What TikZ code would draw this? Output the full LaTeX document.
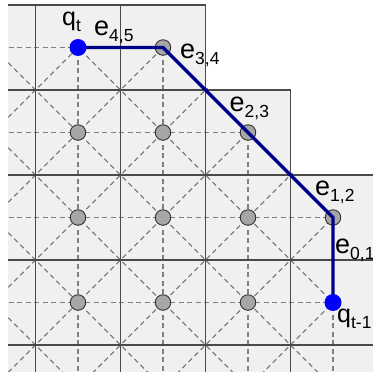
\documentclass[tikz,border=0pt]{standalone}
\usepackage{fontspec}
\setmainfont{Liberation Sans}
\definecolor{bgc}{HTML}{F0F0F0}
\definecolor{gridc}{HTML}{4A4A4A}
\definecolor{dashc}{HTML}{808080}
\definecolor{dotc}{HTML}{A6A6A6}
\definecolor{dotedge}{HTML}{333333}
\definecolor{navyc}{HTML}{000088}
\definecolor{bluec}{HTML}{0000FF}
\newcommand\lsub[1]{{\fontsize{17.5}{17.5}\selectfont\raisebox{-6pt}{#1}}}
\pgfdeclarelayer{bg}
\pgfdeclarelayer{dots}
\pgfdeclarelayer{front}
\pgfsetlayers{bg,dots,main,front}
\begin{document}
\begin{tikzpicture}[x=1pt,y=-1pt,
  gridline/.style={draw=gridc, line width=1.15pt},
  dashline/.style={draw=dashc, line width=1.1pt, dash pattern=on 5pt off 3.5pt},
  graydot/.style={circle, fill=dotc, draw=dotedge, line width=0.9pt, minimum size=15.5pt, inner sep=0pt},
  bluedot/.style={circle, fill=bluec, minimum size=17pt, inner sep=0pt},
  pathline/.style={draw=navyc, line width=3.2pt},
  mainlbl/.style={font=\fontsize{27}{27}\selectfont, inner sep=0pt, anchor=base west},
  qlbl/.style={font=\fontsize{25}{25}\selectfont, inner sep=0pt, anchor=base west}]
\useasboundingbox (0,0) rectangle (373,372);
\begin{pgfonlayer}{bg}
\fill[white] (0,0) rectangle (373,372);
\fill[bgc] (8,5) -- (205.5,5) -- (205.5,90) -- (290.5,90) -- (290.5,175) -- (373,175) -- (373,372) -- (8,372) -- cycle;
% dashed lattice
\begin{scope}
\clip (8,45) -- (164.5,45) -- (334.5,215) -- (334.5,372) -- (8,372) -- cycle;
\foreach \yy in {47.5,132.5,217.5,302.5} \draw[dashline] (0,\yy) -- (373,\yy);
\foreach \xx in {78,163,248,333} \draw[dashline] (\xx,0) -- (\xx,372);
\foreach \c in {-394.5,-309.5,...,300} \draw[dashline] (-100,-100-\c) -- (800,800-\c);
\foreach \s in {40.5,125.5,...,760} \draw[dashline] (-100,\s+100) -- (800,\s-800);
\end{scope}
% solid grid
\draw[gridline] (8,5) -- (205.5,5) -- (205.5,90) -- (290.5,90) -- (290.5,175) -- (373,175);
\draw[gridline] (35.5,5) -- (35.5,372);
\draw[gridline] (120.5,5) -- (120.5,372);
\draw[gridline] (205.5,90) -- (205.5,372);
\draw[gridline] (290.5,175) -- (290.5,372);
\draw[gridline] (8,90) -- (205.5,90);
\draw[gridline] (8,175) -- (290.5,175);
\draw[gridline] (8,260) -- (373,260);
\draw[gridline] (8,345) -- (373,345);
\end{pgfonlayer}
\begin{pgfonlayer}{dots}
\node[graydot] (g12) at (163,47.5) {};
\node[graydot] (g21) at (78,132.5) {};
\node[graydot] (g22) at (163,132.5) {};
\node[graydot] (g23) at (248,132.5) {};
\node[graydot] (g31) at (78,217.5) {};
\node[graydot] (g32) at (163,217.5) {};
\node[graydot] (g33) at (248,217.5) {};
\node[graydot] (g34) at (333,217.5) {};
\node[graydot] (g41) at (78,302.5) {};
\node[graydot] (g42) at (163,302.5) {};
\node[graydot] (g43) at (248,302.5) {};
\end{pgfonlayer}
\begin{pgfonlayer}{front}
\node[bluedot] (qt) at (78,47.5) {};
\node[bluedot] (qt1) at (333,302.5) {};
\end{pgfonlayer}
\draw[pathline] (qt.center) -- (g12.center) -- (g23.center) -- (g34.center) -- (qt1.center);
% labels
\node[qlbl] (lqt) at (62,25) {q\lsub{t}};
\node[mainlbl] (l45) at (94,35) {e\lsub{4,5}};
\node[mainlbl] (l34) at (180,58) {e\lsub{3,4}};
\node[mainlbl] (l23) at (229.5,111) {e\lsub{2,3}};
\node[mainlbl] (l12) at (315,195) {e\lsub{1,2}};
\node[mainlbl] (l01) at (335,253) {e\lsub{0,1}};
\node[qlbl] (lqt1) at (337,322) {q\lsub{t-1}};
\end{tikzpicture}
\end{document}
